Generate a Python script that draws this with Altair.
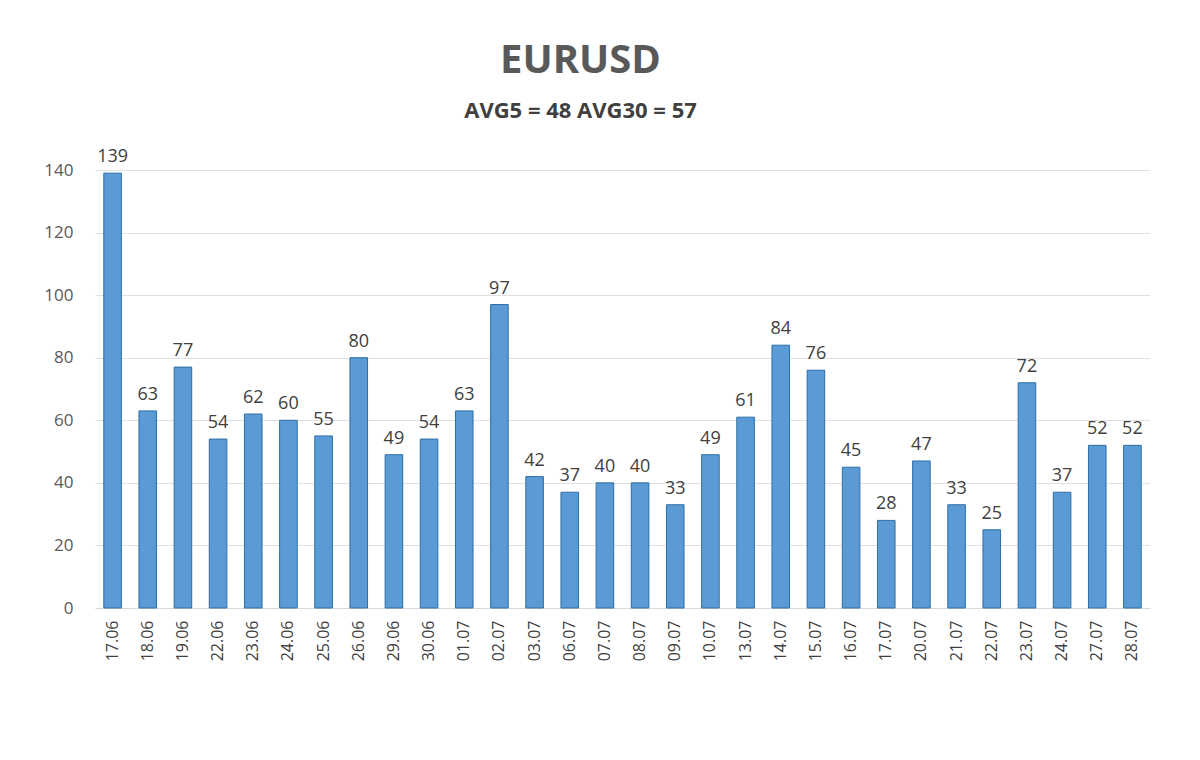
import altair as alt
import pandas as pd

dates = ["17.06", "18.06", "19.06", "22.06", "23.06", "24.06", "25.06", "26.06", "29.06", "30.06",
         "01.07", "02.07", "03.07", "06.07", "07.07", "08.07", "09.07", "10.07", "13.07", "14.07",
         "15.07", "16.07", "17.07", "20.07", "21.07", "22.07", "23.07", "24.07", "27.07", "28.07"]
values = [139, 63, 77, 54, 62, 60, 55, 80, 49, 54,
          63, 97, 42, 37, 40, 40, 33, 49, 61, 84,
          76, 45, 28, 47, 33, 25, 72, 37, 52, 52]

df = pd.DataFrame({"date": dates, "value": values})

x = alt.X("date:N", sort=dates, title=None,
          scale=alt.Scale(paddingInner=0.5, paddingOuter=0.25),
          axis=alt.Axis(labelAngle=270, labelFontSize=16, labelColor="#404040",
                        labelFont="Open Sans", ticks=False, domainColor="#d9d9d9",
                        labelPadding=12))
y = alt.Y("value:Q", title=None,
          scale=alt.Scale(domain=[0, 140], nice=False),
          axis=alt.Axis(values=list(range(0, 141, 20)), labelFontSize=17,
                        labelColor="#595959", labelFont="Open Sans", ticks=False,
                        domain=False, gridColor="#e0e0e0", labelPadding=22))

base = alt.Chart(df).encode(x=x, y=y)

bars = base.mark_bar(color="#5b9bd5", stroke="#2e6da4", strokeWidth=1)
labels = base.mark_text(dy=-16, fontSize=18, color="#404040", font="Open Sans").encode(
    text="value:Q")

chart = (bars + labels).properties(
    width=1055, height=438,
    autosize=alt.AutoSizeParams(type="none"),
    padding={"left": 87, "top": 162, "right": 42, "bottom": 144},
    background="white",
    title=alt.TitleParams(
        "EURUSD", subtitle="AVG5 = 48 AVG30 = 57",
        fontSize=40, subtitleFontSize=22, font="Open Sans", subtitleFont="Open Sans",
        fontWeight="bold", subtitleFontWeight="bold", color="#595959",
        subtitleColor="#404040", anchor="middle", subtitlePadding=20, offset=26, dx=-42),
).configure_view(stroke=None)

chart.save("out.html", embed_options={"renderer": "svg", "actions": False})
